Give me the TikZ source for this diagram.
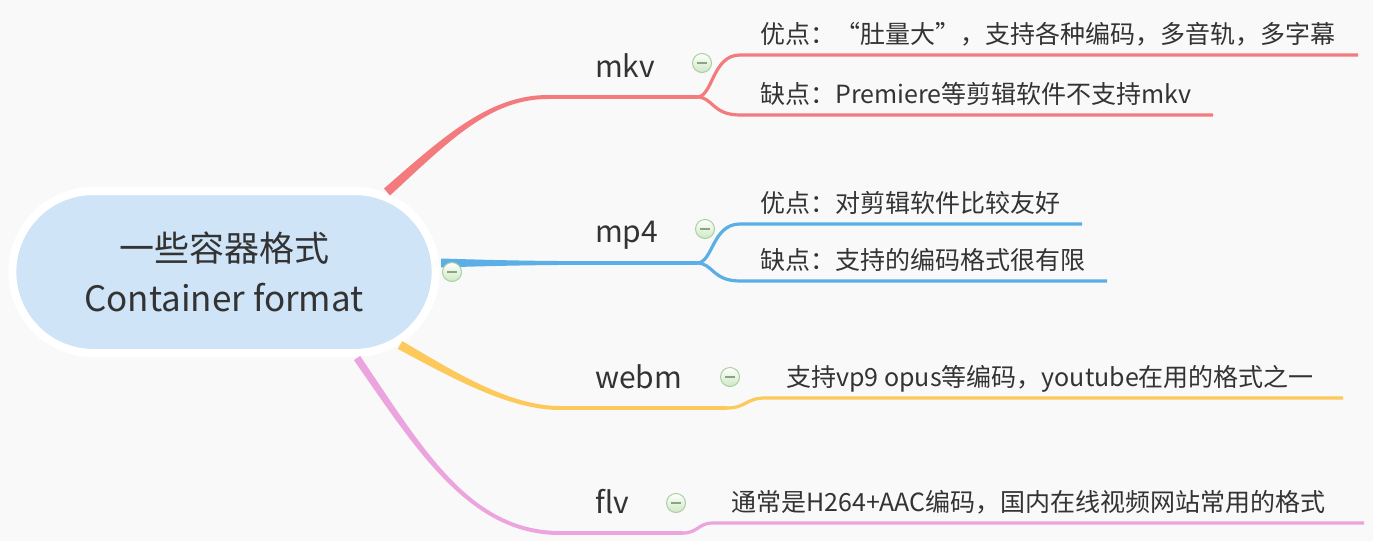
\documentclass[tikz,border=0pt]{standalone}
\usepackage{fontspec}
\setmainfont{Noto Sans CJK SC}
\usepackage{xcolor}
\usetikzlibrary{shapes.misc}
\definecolor{bgc}{HTML}{F9F9F9}
\definecolor{rootc}{HTML}{CFE4F7}
\definecolor{txtc}{HTML}{333333}
\definecolor{mkvc}{HTML}{F47B7D}
\definecolor{mpfc}{HTML}{5AAFE6}
\definecolor{webmc}{HTML}{FDC95B}
\definecolor{flvc}{HTML}{EBA4DE}
\definecolor{togc}{HTML}{A9CF9E}
\definecolor{togf}{HTML}{CFE8C4}

\begin{document}
\begin{tikzpicture}[
    x=1pt, y=-1pt,
    every node/.style={text=txtc},
    root/.style={rounded rectangle, fill=rootc, draw=white, line width=8pt,
      minimum width=430pt, minimum height=162pt, align=center,
      font=\fontsize{35}{50}\selectfont},
    cat/.style={anchor=base west, inner sep=0pt, font=\fontsize{30}{36}\selectfont},
    leaf/.style={anchor=base west, inner sep=0pt, font=\fontsize{25}{30}\selectfont},
    toggle/.style={circle, draw=togc, line width=1pt, top color=white, bottom color=togf,
      minimum size=19pt, inner sep=0pt,
      path picture={\draw[togc!80!black, line width=1.1pt]
        ([xshift=-5pt]path picture bounding box.center) -- ([xshift=5pt]path picture bounding box.center);}},
    twig/.style={line width=3.2pt},
  ]
    % 背景与边界
    \fill[bgc] (0,0) rectangle (1373,541);
    \useasboundingbox (0,0) rectangle (1373,541);

    % 中心主题
    \node[root] (root) at (224,272) {一些容器格式\\Container format};

    % 各分支的关键点
    \coordinate (mkv-f)  at (697,97);
    \coordinate (mkv-ae) at (1358,55);
    \coordinate (mkv-be) at (1213,115);
    \coordinate (mp4-f)  at (697,263);
    \coordinate (mp4-ae) at (1082,224);
    \coordinate (mp4-be) at (1107,281);
    \coordinate (webm-k) at (727,408);
    \coordinate (webm-e) at (1343,398);
    \coordinate (flv-k)  at (683,533);
    \coordinate (flv-e)  at (1364,523);

    % 主干（由粗变细）
    \fill[mkvc] (384,188.5) .. controls (444.5,135.5) and (490,95) .. (548,95)
      -- (548,99) .. controls (490,99) and (449.5,140.5) .. (390,195.5) -- cycle;
    \draw[mkvc, line width=4pt] (546,97) -- (mkv-f);

    \fill[mpfc] (441,258.5) .. controls (520,261) and (560,261.2) .. (620,261.2)
      -- (620,264.8) .. controls (560,264.8) and (520,265) .. (441,267.5) -- cycle;
    \draw[mpfc, line width=3.6pt] (618,263) -- (mp4-f);

    \fill[webmc] (402.2,341.1) .. controls (456.4,373.1) and (510,406) .. (560,406)
      -- (560,410) .. controls (510,410) and (453.6,378.9) .. (397.8,348.9) -- cycle;
    \draw[webmc, line width=3.6pt] (558,408) -- (webm-k);

    \fill[flvc] (360.1,355.9) .. controls (422.5,448.3) and (470,531) .. (560,531)
      -- (560,535) .. controls (470,535) and (417.5,451.7) .. (353.9,360.1) -- cycle;
    \draw[flvc, line width=3.6pt] (558,533) -- (flv-k);

    % 分叉与下划线
    \draw[twig, mkvc] (mkv-f) .. controls (713,97) and (712,55) .. (740,55) -- (mkv-ae);
    \draw[twig, mkvc] (mkv-f) .. controls (713,97) and (712,115) .. (740,115) -- (mkv-be);
    \draw[twig, mpfc] (mp4-f) .. controls (713,263) and (712,224) .. (740,224) -- (mp4-ae);
    \draw[twig, mpfc] (mp4-f) .. controls (713,263) and (712,281) .. (740,281) -- (mp4-be);
    \draw[twig, webmc] (webm-k) .. controls (746,408) and (746,398) .. (765,398) -- (webm-e);
    \draw[twig, flvc] (flv-k) .. controls (698,533) and (698,523) .. (713,523) -- (flv-e);

    % 分支标题
    \node[cat] (mkv)  at (595,77)  {mkv};
    \node[cat] (mp4)  at (595,242) {mp4};
    \node[cat] (webm) at (595,388) {webm};
    \node[cat] (flv)  at (595,513) {flv};

    % 细节文字
    \node[leaf] (mkv-a)  at (760,43)  {优点：“肚量大”，支持各种编码，多音轨，多字幕};
    \node[leaf] (mkv-b)  at (760,103) {缺点：Premiere等剪辑软件不支持mkv};
    \node[leaf] (mp4-a)  at (760,212) {优点：对剪辑软件比较友好};
    \node[leaf] (mp4-b)  at (760,269) {缺点：支持的编码格式很有限};
    \node[leaf] (webm-a) at (786,386) {支持vp9 opus等编码，youtube在用的格式之一};
    \node[leaf] (flv-a)  at (731,511) {通常是H264+AAC编码，国内在线视频网站常用的格式};

    % 折叠按钮
    \node[toggle] (root-tg) at (452,272) {};
    \node[toggle] (mkv-tg)  at (702,63)  {};
    \node[toggle] (mp4-tg)  at (705,229) {};
    \node[toggle] (webm-tg) at (730,377) {};
    \node[toggle] (flv-tg)  at (676,503) {};
\end{tikzpicture}
\end{document}
